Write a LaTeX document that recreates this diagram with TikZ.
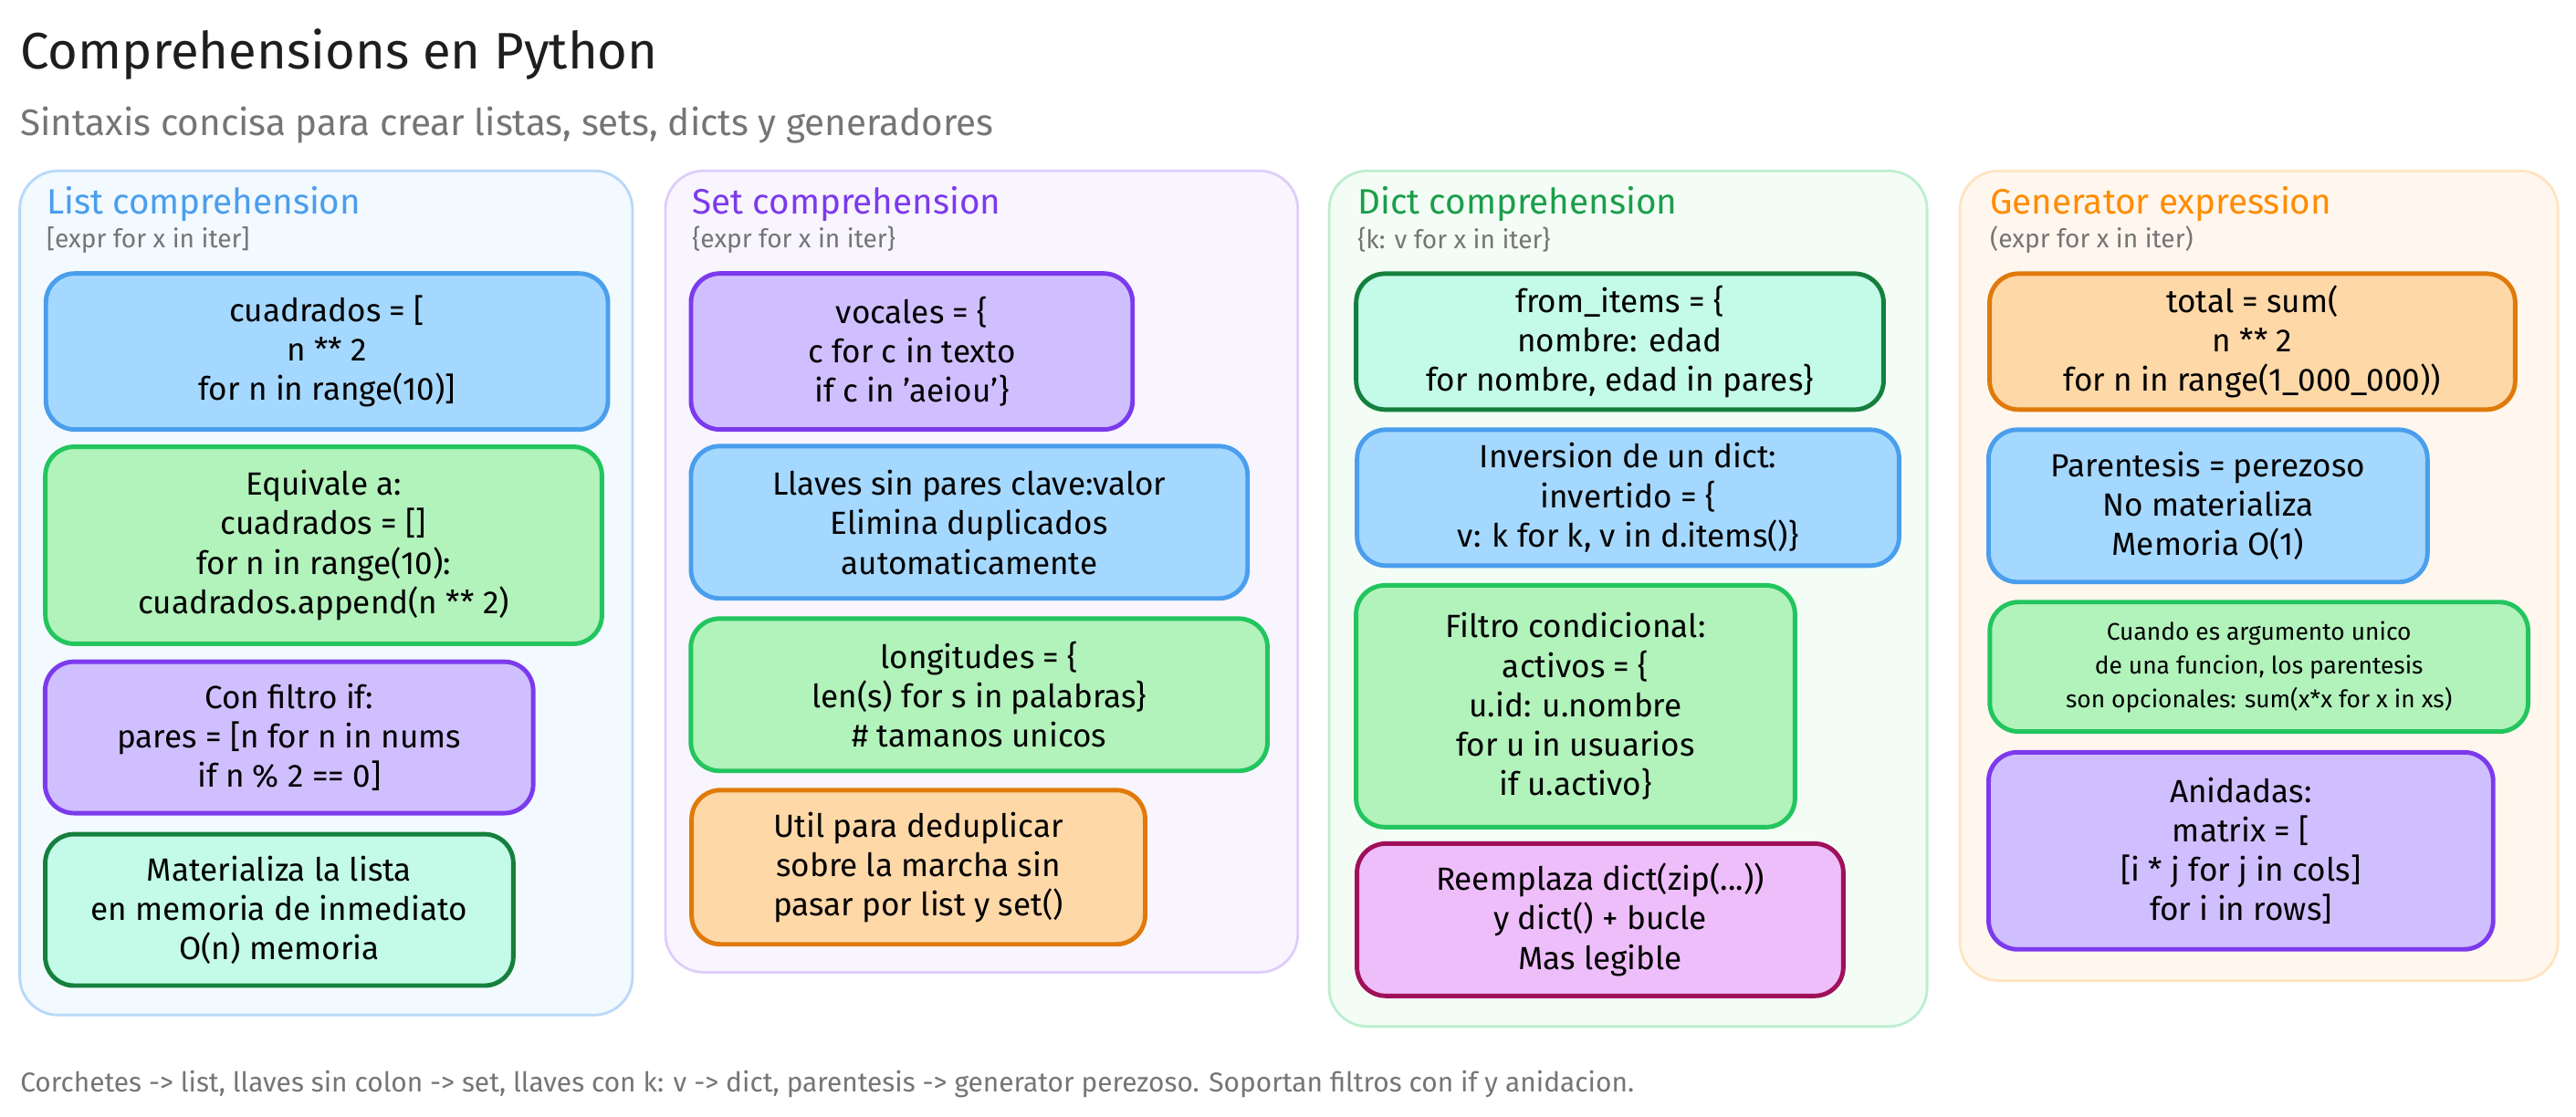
\documentclass[tikz,border=0pt]{standalone}
\usepackage{fontspec}
\setmainfont{Fira Sans}
\usetikzlibrary{positioning}

\definecolor{bluefill}{HTML}{A5D8FF}\definecolor{bluedraw}{HTML}{4A9EED}
\definecolor{greenfill}{HTML}{B2F2BB}\definecolor{greendraw}{HTML}{22C55E}
\definecolor{purplefill}{HTML}{D0BFFF}\definecolor{purpledraw}{HTML}{7C3AED}
\definecolor{mintfill}{HTML}{C3FAE8}\definecolor{mintdraw}{HTML}{15803D}
\definecolor{orangefill}{HTML}{FFD8A8}\definecolor{orangedraw}{HTML}{E07A0B}
\definecolor{pinkfill}{HTML}{EEBEFA}\definecolor{pinkdraw}{HTML}{A0105A}
\definecolor{titlecol}{HTML}{1E1E1E}\definecolor{subcol}{HTML}{757575}

\tikzset{
  card/.style={rounded corners=9pt,line width=1.4pt,align=center,inner sep=2pt,
    font=\fontsize{10}{12.3}\selectfont},
  blue card/.style={card,fill=bluefill,draw=bluedraw},
  green card/.style={card,fill=greenfill,draw=greendraw},
  purple card/.style={card,fill=purplefill,draw=purpledraw},
  mint card/.style={card,fill=mintfill,draw=mintdraw},
  orange card/.style={card,fill=orangefill,draw=orangedraw},
  pink card/.style={card,fill=pinkfill,draw=pinkdraw},
  column/.style={rounded corners=12pt,line width=0.8pt},
  head/.style={anchor=west,inner sep=0pt,font=\fontsize{11}{13}\selectfont},
  subhead/.style={anchor=west,inner sep=0pt,text=subcol,font=\fontsize{8}{10}\selectfont},
}

\begin{document}
\begin{tikzpicture}[x=0.018cm,y=-0.018cm]
\useasboundingbox (0,0) rectangle (1568,680);

% title
\node[anchor=west,inner sep=0pt,text=titlecol,font=\fontsize{16}{19}\selectfont] (title) at (12,33) {Comprehensions en Python};
\node[anchor=west,inner sep=0pt,text=subcol,font=\fontsize{11.5}{14}\selectfont] (subtitle) at (12,76) {Sintaxis concisa para crear listas, sets, dicts y generadores};

% columns
\draw[column,fill=bluefill!15,draw=bluedraw!40] (12,104) rectangle (385,618);
\draw[column,fill=purplefill!15,draw=purpledraw!25] (405,104) rectangle (790,592);
\draw[column,fill=greenfill!15,draw=greendraw!30] (809,104) rectangle (1173,625);
\draw[column,fill=orangefill!20,draw=orangefill!70] (1193,104) rectangle (1557,597);

% headers
\node[head,text=bluedraw] (hl) at (28,124) {List comprehension};
\node[subhead] (sl) at (28,146) {[expr for x in iter]};
\node[head,text=purpledraw] (hs) at (421,124) {Set comprehension};
\node[subhead] (ss) at (421,146) {\{expr for x in iter\}};
\node[head,text=greendraw!80!black] (hd) at (826,124) {Dict comprehension};
\node[subhead] (sd) at (826,146) {\{k: v for x in iter\}};
\node[head,text=orange!90!yellow] (hg) at (1211,124) {Generator expression};
\node[subhead] (sg) at (1211,146) {(expr for x in iter)};

% list column
\node[blue card,minimum width=6.16cm,minimum height=1.71cm] (l1) at (199,214) {cuadrados = [\\n ** 2\\for n in range(10)]};
\node[green card,minimum width=6.10cm,minimum height=2.16cm] (l2) at (197,332) {Equivale a:\\cuadrados = []\\for n in range(10):\\cuadrados.append(n ** 2)};
\node[purple card,minimum width=5.35cm,minimum height=1.66cm] (l3) at (176,449) {Con filtro if:\\pares = [n for n in nums\\if n \% 2 == 0]};
\node[mint card,minimum width=5.13cm,minimum height=1.66cm] (l4) at (170,554) {Materializa la lista\\en memoria de inmediato\\O(n) memoria};

% set column
\node[purple card,minimum width=4.84cm,minimum height=1.71cm] (s1) at (555,214) {vocales = \{\\c for c in texto\\if c in \char"0027aeiou\char"0027\}};
\node[blue card,minimum width=6.10cm,minimum height=1.67cm] (s2) at (590,318) {Llaves sin pares clave:valor\\Elimina duplicados\\automaticamente};
\node[green card,minimum width=6.32cm,minimum height=1.67cm] (s3) at (596,423) {longitudes = \{\\len(s) for s in palabras\}\\\# tamanos unicos};
\node[orange card,minimum width=4.97cm,minimum height=1.69cm] (s4) at (559,528) {Util para deduplicar\\sobre la marcha sin\\pasar por list y set()};

% dict column
\node[mint card,minimum width=5.78cm,minimum height=1.49cm] (d1) at (986,208) {from\_items = \{\\nombre: edad\\for nombre, edad in pares\}};
\node[blue card,minimum width=5.94cm,minimum height=1.49cm] (d2) at (991,303) {Inversion de un dict:\\invertido = \{\\v: k for k, v in d.items()\}};
\node[green card,minimum width=4.81cm,minimum height=2.65cm] (d3) at (959,430) {Filtro condicional:\\activos = \{\\u.id: u.nombre\\for u in usuarios\\if u.activo\}};
\node[pink card,minimum width=5.33cm,minimum height=1.67cm] (d4) at (974,560) {Reemplaza dict(zip(...))\\y dict() + bucle\\Mas legible};

% generator column
\node[orange card,minimum width=5.76cm,minimum height=1.49cm] (g1) at (1371,208) {total = sum(\\n ** 2\\for n in range(1\_000\_000))};
\node[blue card,minimum width=4.81cm,minimum height=1.67cm] (g2) at (1344,308) {Parentesis = perezoso\\No materializa\\Memoria O(1)};
\node[green card,minimum width=5.90cm,minimum height=1.42cm,font=\fontsize{7.5}{10.5}\selectfont] (g3) at (1375,406) {Cuando es argumento unico\\de una funcion, los parentesis\\son opcionales: sum(x*x for x in xs)};
\node[purple card,minimum width=5.53cm,minimum height=2.16cm] (g4) at (1364,518) {Anidadas:\\matrix = [\\{}[i * j for j in cols]\\for i in rows]};

% footer
\node[anchor=west,inner sep=0pt,text=subcol,font=\fontsize{8.5}{10}\selectfont] (foot) at (12,660) {Corchetes -> list, llaves sin colon -> set, llaves con k: v -> dict, parentesis -> generator perezoso. Soportan filtros con if y anidacion.};
\end{tikzpicture}
\end{document}
